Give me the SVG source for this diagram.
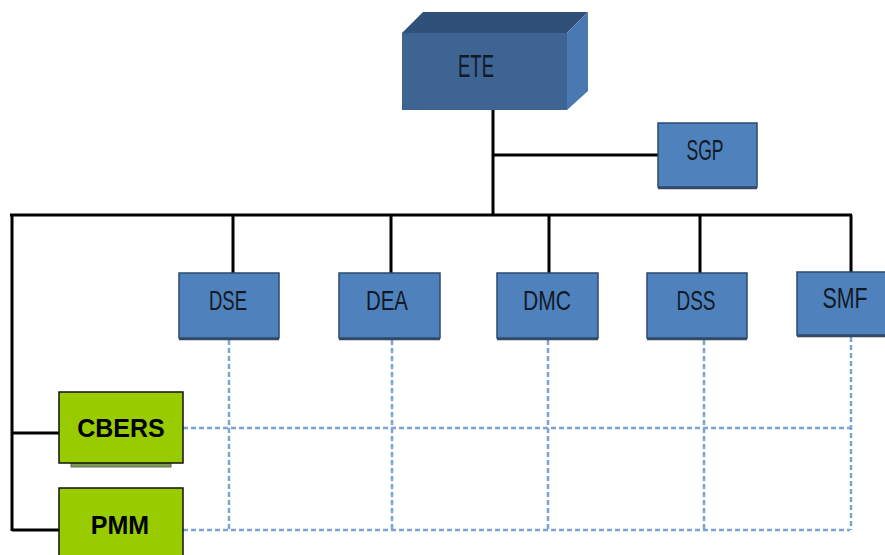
<svg xmlns="http://www.w3.org/2000/svg" width="885" height="555" viewBox="0 0 885 555">
  <style>
    .unit { fill: #4f81bd; stroke: #2b4a70; stroke-width: 1.5; }
    .shade { fill: none; stroke: #3a4a5c; stroke-width: 2.5; }
    .lbl { font-family: "Liberation Sans", Arial, sans-serif; fill: #111a26; text-anchor: middle; }
    .prj { fill: #99cc00; stroke: #111; stroke-width: 1.5; }
    .plbl { font-family: "Liberation Sans", Arial, sans-serif; font-weight: bold; font-size: 25px; fill: #000; text-anchor: middle; }
    .tie { stroke: #000; stroke-width: 3; fill: none; }
    .dot { stroke: #7ea3d6; stroke-width: 2.5; stroke-dasharray: 5 3; fill: none; }
  </style>

  <g id="connectors">
    <!-- solid hierarchy -->
    <path class="tie" d="M493 110 V215"/>
    <path class="tie" d="M493 155 H658"/>
    <path class="tie" d="M10 215 H852"/>
    <path class="tie" d="M233 215 V273 M391 215 V273 M549 215 V273 M700 215 V273 M851 215 V272"/>
    <path class="tie" d="M12 215 V531"/>
    <path class="tie" d="M12 433 H59 M12 530 H59"/>
    <!-- dotted matrix links -->
    <path class="dot" d="M183 428 H852"/>
    <path class="dot" d="M183 530 H850"/>
    <path class="dot" d="M229 340 V530 M392 340 V530 M548 340 V530 M704 340 V530 M851 337 V530"/>
  </g>

  <g id="ETE">
    <polygon points="402,33 423,12 588,12 567,33" fill="#2f5079"/>
    <polygon points="567,33 588,12 588,91 567,110" fill="#4a78b0"/>
    <rect x="402" y="33" width="165" height="77" fill="#3e6494"/>
    <text class="lbl" x="476" y="77" font-size="32" textLength="36" lengthAdjust="spacingAndGlyphs">ETE</text>
  </g>

  <g id="SGP">
    <line class="shade" x1="658" y1="188" x2="757" y2="188"/>
    <rect class="unit" x="658" y="123" width="99" height="64"/>
    <text class="lbl" x="705" y="160" font-size="30" textLength="37" lengthAdjust="spacingAndGlyphs">SGP</text>
  </g>

  <g id="DSE">
    <line class="shade" x1="179" y1="339" x2="279" y2="339"/>
    <rect class="unit" x="179" y="273" width="100" height="65"/>
    <text class="lbl" x="228" y="310" font-size="28" textLength="38" lengthAdjust="spacingAndGlyphs">DSE</text>
  </g>

  <g id="DEA">
    <line class="shade" x1="339" y1="339" x2="440" y2="339"/>
    <rect class="unit" x="339" y="273" width="101" height="65"/>
    <text class="lbl" x="387" y="310" font-size="28" textLength="42" lengthAdjust="spacingAndGlyphs">DEA</text>
  </g>

  <g id="DMC">
    <line class="shade" x1="497" y1="339" x2="598" y2="339"/>
    <rect class="unit" x="497" y="273" width="101" height="65"/>
    <text class="lbl" x="547" y="310" font-size="28" textLength="48" lengthAdjust="spacingAndGlyphs">DMC</text>
  </g>

  <g id="DSS">
    <line class="shade" x1="647" y1="339" x2="747" y2="339"/>
    <rect class="unit" x="647" y="273" width="100" height="65"/>
    <text class="lbl" x="696" y="310" font-size="28" textLength="39" lengthAdjust="spacingAndGlyphs">DSS</text>
  </g>

  <g id="SMF">
    <line class="shade" x1="797" y1="336" x2="885" y2="336"/>
    <rect class="unit" x="797" y="272" width="90" height="63"/>
    <text class="lbl" x="845" y="308" font-size="30" textLength="45" lengthAdjust="spacingAndGlyphs">SMF</text>
  </g>

  <g id="CBERS">
    <rect x="71" y="462" width="100" height="5" fill="#7d9b4c" stroke="#666" stroke-width="1"/>
    <rect class="prj" x="59" y="392" width="124" height="71"/>
    <text class="plbl" x="121" y="437">CBERS</text>
  </g>

  <g id="PMM">
    <rect class="prj" x="59" y="488" width="124" height="72"/>
    <text class="plbl" x="120" y="534">PMM</text>
  </g>
</svg>
